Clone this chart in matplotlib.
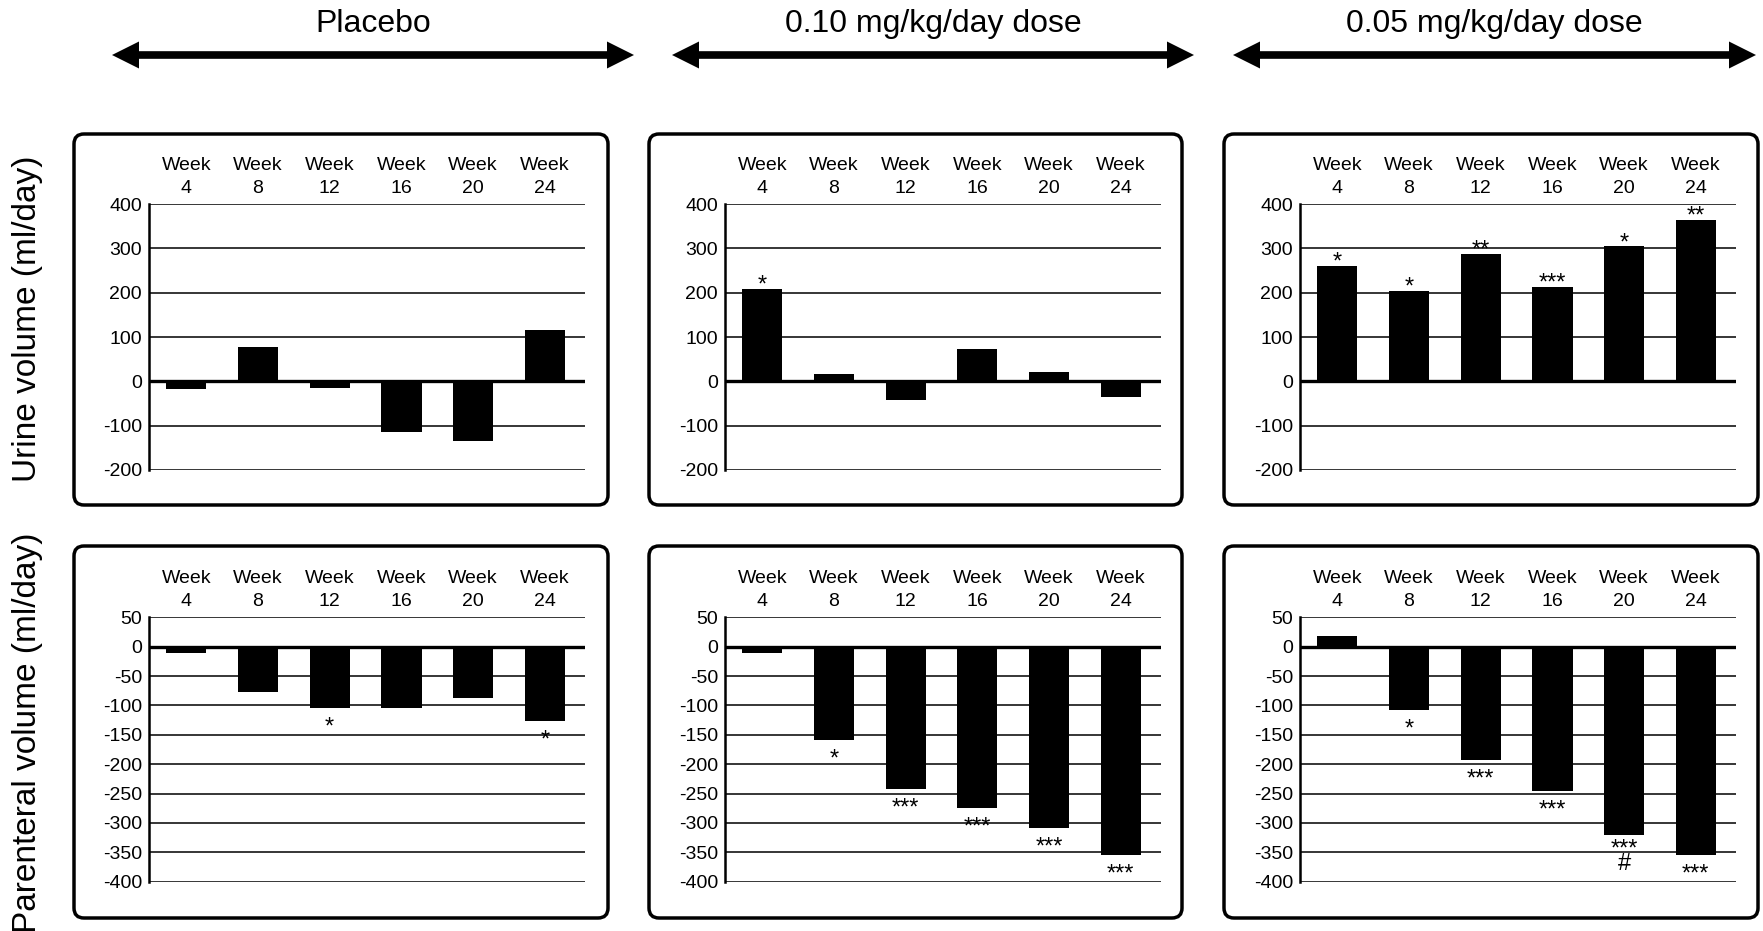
import matplotlib
matplotlib.use("Agg")
import matplotlib.pyplot as plt
from matplotlib.patches import FancyBboxPatch

plt.rcParams['font.family'] = ['Liberation Sans', 'DejaVu Sans']

# ---------------- data ----------------
weeks = ['4', '8', '12', '16', '20', '24']
week_labels = ['Week\n' + w for w in weeks]

groups = ['Placebo', '0.10 mg/kg/day dose', '0.05 mg/kg/day dose']

urine_placebo = [-18, 77, -15, -115, -135, 115]
urine_010 = [208, 16, -43, 72, 21, -36]
urine_005 = [260, 205, 287, 213, 305, 365]

par_placebo = [-11, -77, -105, -105, -87, -127]
par_010 = [-11, -159, -242, -275, -309, -354]
par_005 = [18, -108, -193, -246, -321, -355]

sig_urine_placebo = ['', '', '', '', '', '']
sig_urine_010 = ['*', '', '', '', '', '']
sig_urine_005 = ['*', '*', '**', '***', '*', '**']
sig_par_placebo = ['', '', '*', '', '', '*']
sig_par_010 = ['', '*', '***', '***', '***', '***']
sig_par_005 = ['', '*', '***', '***', '***\n#', '***']

urine_ticks = [400, 300, 200, 100, 0, -100, -200]
par_ticks = [50, 0, -50, -100, -150, -200, -250, -300, -350, -400]

row_labels = ['Urine volume (ml/day)', 'Parenteral volume (ml/day)']

# ---------------- layout (pixels) ----------------
W, H = 1763, 931
fig = plt.figure(figsize=(W / 100, H / 100), dpi=100)

cols_px = [(149, 585), (725, 1161), (1300, 1736)]
rows_px = [(204, 470), (617, 882)]
box_cols = [(74, 608), (649, 1182), (1224, 1758)]
box_rows = [(134, 505), (546, 918)]


def rect(x0, x1, yt, yb):
    return [x0 / W, 1 - yb / H, (x1 - x0) / W, (yb - yt) / H]


overlay = fig.add_axes([0, 0, 1, 1], zorder=-1)
overlay.set_xlim(0, W)
overlay.set_ylim(H, 0)
overlay.axis('off')
overlay.patch.set_visible(False)

data = [[urine_placebo, urine_010, urine_005], [par_placebo, par_010, par_005]]
sigs = [[sig_urine_placebo, sig_urine_010, sig_urine_005],
        [sig_par_placebo, sig_par_010, sig_par_005]]

for r in range(2):
    for c in range(3):
        ax = fig.add_axes(rect(cols_px[c][0], cols_px[c][1], rows_px[r][0], rows_px[r][1]))
        vals = data[r][c]
        x = list(range(len(weeks)))
        ax.bar(x, vals, width=0.56, color='black', zorder=3)
        ticks = urine_ticks if r == 0 else par_ticks
        ax.set_ylim(min(ticks) - 0.5, max(ticks) + 0.5)
        ax.set_xlim(-0.52, 5.56)
        ax.set_yticks(ticks)
        ax.set_yticklabels([str(t) for t in ticks])
        for t in ticks:
            if t == 0:
                ax.axhline(0, color='black', lw=2.4, zorder=4)
            else:
                ax.axhline(t, color='black', lw=1.1, zorder=1)
        ax.xaxis.tick_top()
        ax.set_xticks(x)
        ax.set_xticklabels(week_labels, linespacing=1.45)
        ax.tick_params(axis='x', length=0, pad=5, labelsize=14)
        ax.tick_params(axis='y', length=0, pad=5, labelsize=14)
        for s in ['top', 'right', 'bottom']:
            ax.spines[s].set_visible(False)
        ax.spines['left'].set_linewidth(1.8)
        ax.spines['left'].set_zorder(5)
        ax.set_facecolor('none')
        for i, v in enumerate(vals):
            s = sigs[r][c][i]
            if not s:
                continue
            if v >= 0:
                ax.annotate(s, (i, v), xytext=(0, -2), textcoords='offset points',
                            ha='center', va='baseline', fontsize=17)
            elif '\n' in s:
                ax.annotate(s, (i, v), xytext=(0, -2.5), textcoords='offset points',
                            ha='center', va='top', fontsize=17, linespacing=0.55)
            else:
                ax.annotate(s, (i, v), xytext=(0, -18.4), textcoords='offset points',
                            ha='center', va='baseline', fontsize=17)
        # panel box
        bx0, bx1 = box_cols[c]
        by0, by1 = box_rows[r]
        overlay.add_patch(FancyBboxPatch((bx0, by0), bx1 - bx0, by1 - by0,
                                         boxstyle='round,pad=0,rounding_size=10',
                                         lw=2.5, ec='black', fc='none'))

# headers with double arrows
arrow_x = [(112, 634), (672, 1194), (1233, 1756)]
ay, hl, hh = 55, 27, 13.5
for g, (a0, a1) in zip(groups, arrow_x):
    overlay.text((a0 + a1) / 2, 24, g, ha='center', va='center', fontsize=23)
    overlay.plot([a0 + hl - 1, a1 - hl + 1], [ay, ay], color='black', lw=5.5,
                 solid_capstyle='butt')
    overlay.fill([a0, a0 + hl, a0 + hl], [ay, ay - hh, ay + hh], color='black', lw=0)
    overlay.fill([a1, a1 - hl, a1 - hl], [ay, ay - hh, ay + hh], color='black', lw=0)

overlay.text(28, 319, row_labels[0], rotation=90, ha='center', va='center', fontsize=24)
overlay.text(28, 733, row_labels[1], rotation=90, ha='center', va='center', fontsize=24)

fig.savefig('out.png', dpi=100)
